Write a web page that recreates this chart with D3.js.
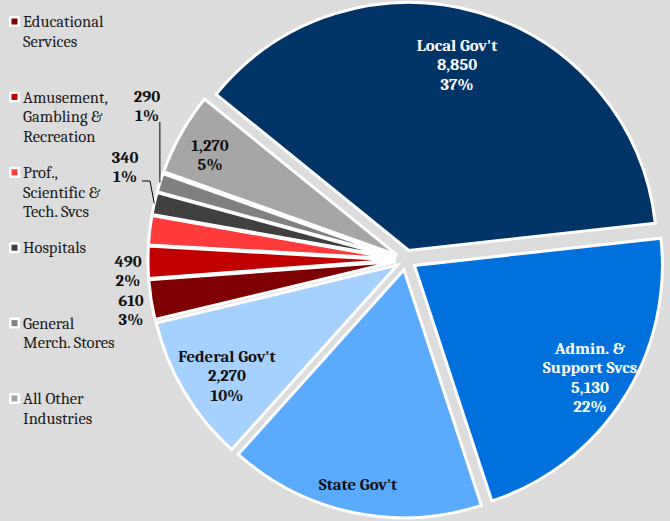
<!DOCTYPE html>
<html>
<head>
<meta charset="utf-8">
<script src="https://cdn.jsdelivr.net/npm/d3@7"></script>
<style>
  body { margin: 0; background: #dcdcdc; }
  svg { display: block; }
  text { font-family: Cambria, "Liberation Serif", "DejaVu Serif", serif; }
</style>
</head>
<body>
<svg id="chart" width="670" height="521"></svg>
<script>
// slices, clockwise from the upper-left edge of Local Gov't
var categories = ["Local Gov't", "Admin. & Support Svcs", "State Gov't", "Federal Gov't",
  "Educational Services", "Amusement, Gambling & Recreation", "Prof., Scientific & Tech. Svcs",
  "Hospitals", "General Merch. Stores", "All Other Industries"];
var values = [8850, 5130, 3950, 2270, 610, 490, 450, 340, 290, 1270];
var colors = ["#003366", "#0070dd", "#5aabff", "#a6d1ff", "#7f0000", "#c00000", "#ff3b3b",
  "#404040", "#808080", "#a6a6a6"];

// legend only shows the last six entries
var legendItems = [
  ["Educational", "Services"],
  ["Amusement,", "Gambling &", "Recreation"],
  ["Prof.,", "Scientific &", "Tech. Svcs"],
  ["Hospitals"],
  ["General", "Merch. Stores"],
  ["All Other", "Industries"]
];

var svg = d3.select("#chart");
var width = 670, height = 521;
var cx = 406, cy = 260, radius = 248, explode = 10;

svg.append("rect").attr("width", width).attr("height", height).attr("fill", "#dcdcdc");

var total = d3.sum(values);
var fmt = d3.format(",");
var pct = function(v) { return Math.round(v / total * 100) + "%"; };

var pie = d3.pie().sort(null).value(function(d) { return d.value; })
  .startAngle(-51 * Math.PI / 180).endAngle(309 * Math.PI / 180);

var data = categories.map(function(c, i) { return { name: c, value: values[i], color: colors[i] }; });
var arcs = pie(data);

var arc = d3.arc().innerRadius(0).outerRadius(radius);

function offset(d, r) {
  var a = (d.startAngle + d.endAngle) / 2;
  return [Math.sin(a) * r, -Math.cos(a) * r];
}

var g = svg.append("g").attr("transform", "translate(" + cx + "," + cy + ")");

g.selectAll("path")
  .data(arcs)
  .enter().append("path")
  .attr("transform", function(d) {
    var o = offset(d, explode);
    return "translate(" + o[0] + "," + o[1] + ")";
  })
  .attr("d", arc)
  .attr("fill", function(d) { return d.data.color; })
  .attr("stroke", "#fff")
  .attr("stroke-width", 3)
  .attr("stroke-linejoin", "miter");

// data labels: which lines each slice shows, and where (index into arcs)
var labelLines = [
  ["Local Gov't", fmt(values[0]), pct(values[0])],
  ["Admin. &", "Support Svcs", fmt(values[1]), pct(values[1])],
  ["State Gov't"],
  ["Federal Gov't", fmt(values[3]), pct(values[3])],
  [fmt(values[4]), pct(values[4])],
  [fmt(values[5]), pct(values[5])],
  [],
  [fmt(values[7]), pct(values[7])],
  [fmt(values[8]), pct(values[8])],
  [fmt(values[9]), pct(values[9])]
];
var labelAt = [[457, 45], [590, 348], [358, 484], [227, 356], [131, 300], [128, 261], null,
  [125, 157], [147, 96], [210, 145]];
var labelColor = ["#fff", "#fff", "#111", "#111", "#111", "#111", "#111", "#111", "#111", "#111"];

var lineH = 19.5;
labelLines.forEach(function(lines, i) {
  if (!lines.length) return;
  var t = svg.append("text")
    .attr("text-anchor", "middle")
    .attr("font-weight", "bold")
    .attr("font-size", 16.8)
    .attr("fill", labelColor[i]);
  lines.forEach(function(s, k) {
    t.append("tspan")
      .attr("x", labelAt[i][0])
      .attr("y", labelAt[i][1] + k * lineH)
      .attr("dy", "0.35em")
      .text(s);
  });
});

// leader lines for the two thin grey slices
function edgePoint(i) {
  var d = arcs[i];
  var o = offset(d, explode), e = offset(d, radius);
  return [cx + o[0] + e[0], cy + o[1] + e[1]];
}
var line = d3.line();
var pGen = edgePoint(8), pHosp = edgePoint(7);
svg.append("path")
  .attr("d", line([[pGen[0], 122], pGen]))
  .attr("fill", "none").attr("stroke", "#000").attr("stroke-width", 1);
svg.append("path")
  .attr("d", line([[142, 181], [150, 181], pHosp]))
  .attr("fill", "none").attr("stroke", "#000").attr("stroke-width", 1);

// legend
var legend = svg.append("g").attr("class", "legend");
var legendY = d3.scaleLinear().domain([0, legendItems.length - 1]).range([21.5, 398.5]);

legendItems.forEach(function(lines, i) {
  var y = legendY(i);
  var col = colors[colors.length - legendItems.length + i];
  legend.append("rect")
    .attr("x", 9).attr("y", y - 5.5).attr("width", 11).attr("height", 11)
    .attr("rx", 1.5).attr("fill", "#fff");
  legend.append("rect")
    .attr("x", 11.5).attr("y", y - 3).attr("width", 6).attr("height", 6)
    .attr("fill", col);
  var t = legend.append("text").attr("font-size", 16.5).attr("fill", "#1a1a1a");
  lines.forEach(function(s, k) {
    t.append("tspan")
      .attr("x", 23)
      .attr("y", y + k * lineH)
      .attr("dy", "0.35em")
      .text(s);
  });
});
</script>
</body>
</html>
